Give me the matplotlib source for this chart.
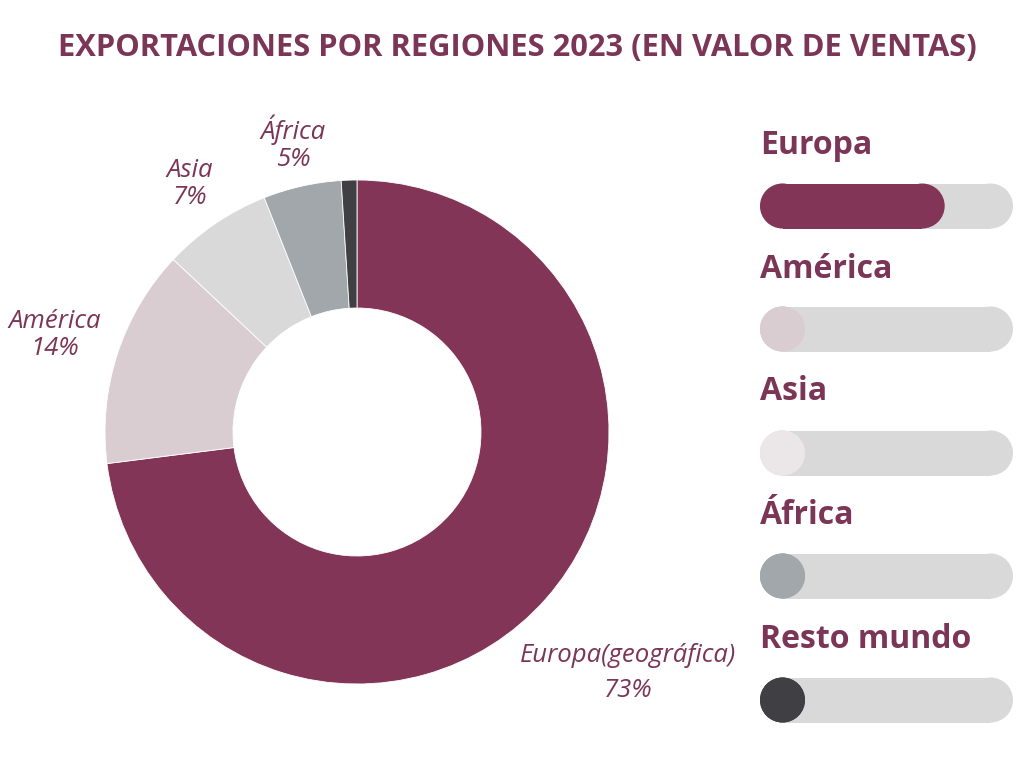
import matplotlib.pyplot as plt
from matplotlib.patches import Circle, Rectangle

# data
regions = ["Europa(geográfica)", "América", "Asia", "África", "Resto mundo"]
legend_names = ["Europa", "América", "Asia", "África", "Resto mundo"]
shares = [73, 14, 7, 5, 1]
pct_labels = ["73%", "14%", "7%", "5%", ""]

colors = ["#823557", "#d9cdd2", "#d9d9d9", "#a2a7ac", "#404044"]
legend_colors = ["#823557", "#d9cdd2", "#ebe7e9", "#a2a7ac", "#404044"]
text_color = "#7b3557"
track_color = "#d9d9d9"

W, H = 1024, 768
fig = plt.figure(figsize=(W / 100, H / 100), dpi=100)
ax = fig.add_axes([0, 0, 1, 1])

def fy(py):
    return H - py

fig.text(517.5 / W, fy(48) / H, "EXPORTACIONES POR REGIONES 2023 (EN VALOR DE VENTAS)",
         ha="center", va="center", fontsize=22.2, fontweight="bold",
         family="Open Sans", color=text_color)

# donut
ax.pie(shares, colors=colors, startangle=90, counterclock=False,
       center=(357, fy(432)), radius=252, frame=True,
       wedgeprops=dict(width=128, edgecolor="white", linewidth=0.6))
ax.set_xlim(0, W)
ax.set_ylim(0, H)
ax.set_aspect("equal")
ax.axis("off")

# slice labels (positions are layout only)
label_pos = [(628, 673, 1.5), (55, 335, 1.1), (190, 184, 1.1), (293, 143, 1.1)]
for i, (x, y, ls) in enumerate(label_pos):
    ax.text(x, fy(y), regions[i] + "\n" + pct_labels[i], ha="center", va="center",
            fontsize=18.5, style="italic", family="Open Sans", color=text_color,
            linespacing=ls)

# legend with progress bars
x0, x1, bh = 760, 1013, 45
r = bh / 2
bar_y = [206, 329, 453, 576, 700]
name_y = [145, 269, 392, 516, 639]
track_w = x1 - x0

def pill(x, yc, w, color):
    ax.add_patch(Rectangle((x + r, yc - r), w - 2 * r, bh, fc=color, ec="none"))
    ax.add_patch(Circle((x + r, yc), r, fc=color, ec="none"))
    ax.add_patch(Circle((x + w - r, yc), r, fc=color, ec="none"))

for i, name in enumerate(legend_names):
    ax.text(x0, fy(name_y[i]), name, ha="left", va="center", fontsize=23,
            fontweight="bold", family="Open Sans", color=text_color)
    yc = fy(bar_y[i])
    pill(x0, yc, track_w, track_color)
    fw = max(shares[i] / 100 * track_w, bh)
    pill(x0, yc, fw, legend_colors[i])

fig.savefig("out.png", dpi=100, facecolor="white")
